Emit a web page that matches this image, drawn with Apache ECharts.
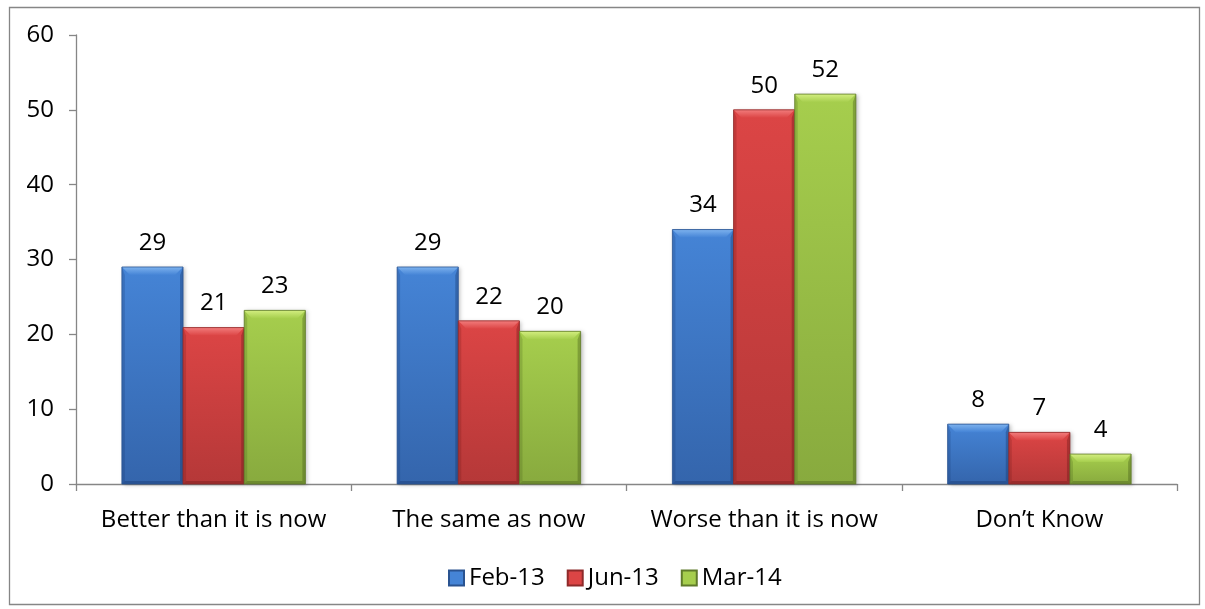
<!DOCTYPE html>
<html>
<head>
<meta charset="utf-8">
<script src="https://cdn.jsdelivr.net/npm/echarts@6/dist/echarts.min.js"></script>
<style>
html,body{margin:0;padding:0;background:#fff;}
#chart{width:1205px;height:609px;}
</style>
</head>
<body>
<div id="chart"></div>
<script>
const categories = ['Better than it is now', 'The same as now', 'Worse than it is now', 'Don\u2019t Know'];
const seriesNames = ['Feb-13', 'Jun-13', 'Mar-14'];
const feb13 = [29, 29, 34, 8];
const jun13 = [20.9, 21.8, 50, 6.9];
const mar14 = [23.2, 20.4, 52.1, 4];
const yTicks = [0, 10, 20, 30, 40, 50, 60];

const FONT = '"Open Sans", Lato, sans-serif';
const FS = 24;
const palettes = [
  {hi: '#7DB2EE', top: '#4584D6', bot: '#3465AC', edge: '#2A5390', dark: 'rgba(20,50,100,0.35)'},
  {hi: '#F27C7C', top: '#DC4545', bot: '#B53838', edge: '#8E2A2A', dark: 'rgba(100,20,20,0.35)'},
  {hi: '#D3EE80', top: '#A6CE4D', bot: '#88AA3E', edge: '#5F7A2A', dark: 'rgba(60,80,20,0.35)'}
];
const dataSets = [feb13, jun13, mar14];
const nSeries = dataSets.length;
const GAP_RATIO = 1.5; // gap width relative to bar width

function makeRender(si) {
  const p = palettes[si];
  return function (params, api) {
    const cat = api.value(0), val = api.value(1);
    const base = api.coord([cat, 0]);
    const top = api.coord([cat, val]);
    const band = api.size([1, 0])[0];
    const bw = band / (nSeries + GAP_RATIO);
    const x0 = base[0] - (nSeries / 2) * bw + si * bw;
    const x1 = x0 + bw;
    const y0 = top[1], y1 = base[1];
    const h = y1 - y0;
    const b = Math.min(8, h / 2);
    const s = 3;
    return {
      type: 'group',
      children: [
        {type: 'rect', shape: {x: x0, y: y0, width: bw, height: h},
          style: {fill: new echarts.graphic.LinearGradient(0, 0, 0, 1, [
            {offset: 0, color: p.top}, {offset: 1, color: p.bot}]),
            shadowColor: 'rgba(0,0,0,0.25)', shadowBlur: 4, shadowOffsetX: 2, shadowOffsetY: 1}},
        {type: 'polygon', shape: {points: [[x0, y0], [x1, y0], [x1 - b, y0 + b], [x0 + b, y0 + b]]},
          style: {fill: new echarts.graphic.LinearGradient(0, 0, 0, 1, [
            {offset: 0, color: p.hi}, {offset: 1, color: p.top}])}},
        {type: 'polygon', shape: {points: [[x0, y0], [x0 + s, y0 + b], [x0 + s, y1 - s], [x0, y1]]},
          style: {fill: p.dark, opacity: 0.6}},
        {type: 'polygon', shape: {points: [[x1, y0], [x1 - s, y0 + b], [x1 - s, y1 - s], [x1, y1]]},
          style: {fill: p.dark}},
        {type: 'polygon', shape: {points: [[x0, y1], [x0 + s, y1 - s], [x1 - s, y1 - s], [x1, y1]]},
          style: {fill: p.dark}},
        {type: 'rect', shape: {x: x0, y: y0, width: bw, height: h},
          style: {fill: 'none', stroke: p.edge, lineWidth: 0.8}},
        {type: 'text', x: (x0 + x1) / 2, y: y0 - 12,
          style: {text: String(Math.round(val)), fill: '#000', font: FS + 'px ' + FONT,
            align: 'center', verticalAlign: 'bottom'}}
      ]
    };
  };
}

const chart = echarts.init(document.getElementById('chart'));
chart.setOption({
  animation: false,
  textStyle: {fontFamily: FONT},
  graphic: [{
    type: 'rect', left: 7, top: 5,
    shape: {width: 1190, height: 597},
    style: {fill: 'none', stroke: '#868686', lineWidth: 1.3}
  }],
  grid: {left: 76, right: 28, top: 35, bottom: 125},
  legend: {
    data: seriesNames,
    top: 561, left: 443,
    icon: 'rect',
    itemWidth: 15, itemHeight: 15, itemGap: 22,
    textStyle: {fontSize: FS, color: '#000', fontFamily: FONT}
  },
  xAxis: {
    type: 'category', data: categories,
    axisLine: {lineStyle: {color: '#868686', width: 1.3}},
    axisTick: {show: true, interval: 0, length: 7, lineStyle: {color: '#868686', width: 1.3}},
    axisLabel: {interval: 0, fontSize: FS, color: '#000', margin: 24, fontFamily: FONT, hideOverlap: false}
  },
  yAxis: {
    type: 'value', min: 0, max: 60, interval: 10,
    axisLine: {show: true, lineStyle: {color: '#868686', width: 1.3}},
    axisTick: {show: true, length: 7, lineStyle: {color: '#868686', width: 1.3}},
    splitLine: {show: false},
    axisLabel: {fontSize: FS, color: '#000', margin: 22, fontFamily: FONT,
      formatter: v => yTicks.includes(v) ? String(v) : ''}
  },
  series: dataSets.map((d, i) => ({
    name: seriesNames[i], type: 'custom',
    data: d.map((v, k) => [k, v]),
    encode: {x: 0, y: 1},
    itemStyle: {color: palettes[i].top, borderColor: palettes[i].edge, borderWidth: 0.8},
    renderItem: makeRender(i)
  }))
});
</script>
</body>
</html>
